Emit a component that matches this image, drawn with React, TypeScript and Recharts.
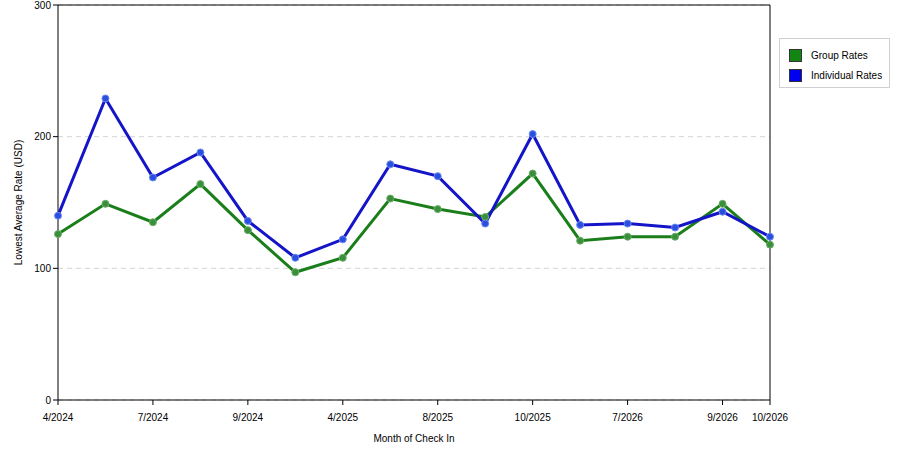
import { LineChart, Line, XAxis, YAxis, CartesianGrid, ReferenceLine } from 'recharts'

const months = [
  '4/2024', '6/2024', '7/2024', '8/2024', '9/2024', '3/2025', '4/2025', '6/2025',
  '8/2025', '9/2025', '10/2025', '5/2026', '7/2026', '8/2026', '9/2026', '10/2026',
]
const shownMonths = ['4/2024', '7/2024', '9/2024', '4/2025', '8/2025', '10/2025', '7/2026', '9/2026', '10/2026']
const groupRates = [126, 149, 135, 164, 129, 97, 108, 153, 145, 139, 172, 121, 124, 124, 149, 118]
const individualRates = [140, 229, 169, 188, 136, 108, 122, 179, 170, 134, 202, 133, 134, 131, 143, 124]
const yTicks = [0, 100, 200, 300]

const GREEN = '#1a7f1a'
const BLUE = '#1414c8'

const data = months.map((m, i) => ({ month: m, group: groupRates[i], individual: individualRates[i] }))

const font = 'Liberation Sans, Arial, sans-serif'

// legend drawn as plain html so it doesn't eat into the plot area
function LegendBox() {
  const items = [
    { name: 'Group Rates', color: '#138513' },
    { name: 'Individual Rates', color: '#0000f0' },
  ]
  return (
    <div style={{ position: 'absolute', left: 779, top: 38, border: '1px solid #d0d0d0', width: 111, height: 50, boxSizing: 'border-box', padding: '6px 0 0 9px', background: '#fff' }}>
      {items.map((it) => (
        <div key={it.name} style={{ display: 'flex', alignItems: 'center', height: 20, fontFamily: font, fontSize: 10, color: '#000' }}>
          <div style={{ width: 11, height: 11, background: it.color, border: '1px solid #333', marginRight: 9 }} />
          <span>{it.name}</span>
        </div>
      ))}
    </div>
  )
}

export default function App() {
  return (
    <div style={{ position: 'absolute', left: 0, top: 0, width: 900, height: 450, background: '#fff' }}>
      <LineChart width={900} height={450} data={data} margin={{ top: 5, right: 130, bottom: 0, left: 0 }}>
        <CartesianGrid vertical={false} stroke="#d4d4d4" strokeDasharray="5 4" />
        <XAxis
          dataKey="month"
          ticks={shownMonths}
          interval={0}
          height={50}
          tickSize={5}
          stroke="#000"
          tick={{ fill: '#000', fontSize: 10, fontFamily: font }}
          tickMargin={9}
          label={{ value: 'Month of Check In', position: 'insideBottom', offset: 8, fill: '#000', fontSize: 10, fontFamily: font }}
        />
        <YAxis
          domain={[0, 300]}
          ticks={yTicks}
          width={58}
          tickSize={5}
          stroke="#000"
          tick={{ fill: '#000', fontSize: 10, fontFamily: font }}
          tickMargin={2}
          label={{ value: 'Lowest Average Rate (USD)', angle: -90, position: 'insideLeft', offset: 18, fill: '#000', fontSize: 10, fontFamily: font, style: { textAnchor: 'middle' } }}
        />
        <ReferenceLine y={300} stroke="#000" strokeWidth={1} />
        <ReferenceLine x="10/2026" stroke="#000" strokeWidth={1} />
        <Line
          dataKey="group"
          name="Group Rates"
          stroke={GREEN}
          strokeWidth={3}
          dot={{ r: 3.5, fill: '#3a8f3a', stroke: '#6aad6a', strokeWidth: 1 }}
          isAnimationActive={false}
        />
        <Line
          dataKey="individual"
          name="Individual Rates"
          stroke={BLUE}
          strokeWidth={3}
          dot={{ r: 3.5, fill: '#2a4ee0', stroke: '#6a8af0', strokeWidth: 1 }}
          isAnimationActive={false}
        />
      </LineChart>
      <LegendBox />
    </div>
  )
}
